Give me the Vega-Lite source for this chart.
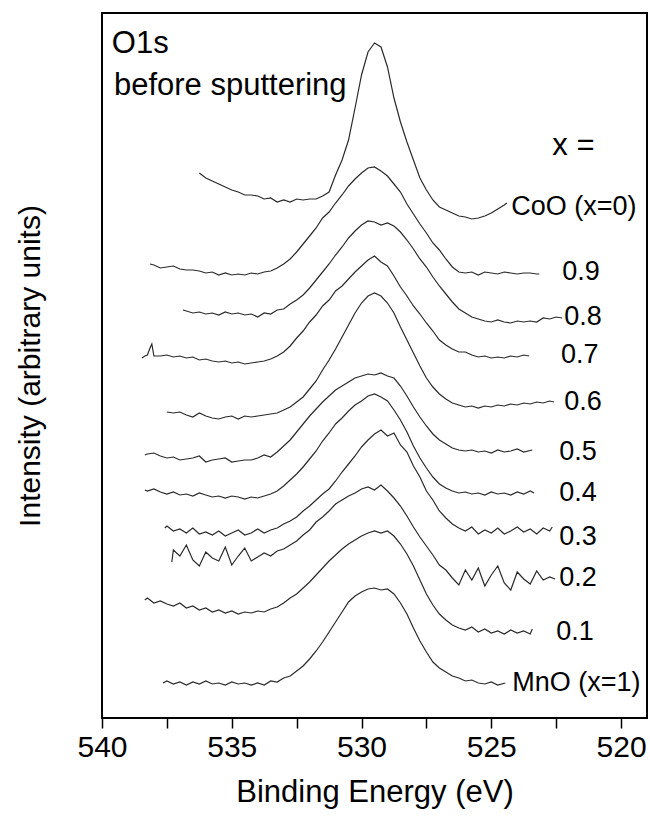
{
  "$schema": "https://vega.github.io/schema/vega-lite/v6.json",
  "width": 545,
  "height": 705,
  "autosize": {"type": "none"},
  "padding": {"left": 102, "top": 13, "right": 3, "bottom": 101},
  "background": "white",
  "config": {"font": "Liberation Sans", "view": {"stroke": "black", "strokeWidth": 2}},
  "datasets": {
    "spectra": [
      {"s":"CoO","e":536.25,"i":545},{"s":"CoO","e":536.0,"i":540},{"s":"CoO","e":535.75,"i":537},{"s":"CoO","e":535.5,"i":534},{"s":"CoO","e":535.25,"i":531},{"s":"CoO","e":535.0,"i":528},{"s":"CoO","e":534.75,"i":526},{"s":"CoO","e":534.5,"i":523},{"s":"CoO","e":534.25,"i":523},{"s":"CoO","e":534.0,"i":522},{"s":"CoO","e":533.75,"i":519},{"s":"CoO","e":533.5,"i":520},{"s":"CoO","e":533.25,"i":516},{"s":"CoO","e":533.0,"i":518},{"s":"CoO","e":532.75,"i":516},{"s":"CoO","e":532.5,"i":519},{"s":"CoO","e":532.25,"i":518},{"s":"CoO","e":532.0,"i":519},{"s":"CoO","e":531.75,"i":519},{"s":"CoO","e":531.5,"i":522},{"s":"CoO","e":531.25,"i":526},{"s":"CoO","e":531.0,"i":543},{"s":"CoO","e":530.75,"i":558},{"s":"CoO","e":530.5,"i":578},{"s":"CoO","e":530.25,"i":610},{"s":"CoO","e":530.0,"i":643},{"s":"CoO","e":529.75,"i":666},{"s":"CoO","e":529.5,"i":675},{"s":"CoO","e":529.25,"i":671},{"s":"CoO","e":529.0,"i":651},{"s":"CoO","e":528.75,"i":620},{"s":"CoO","e":528.5,"i":596},{"s":"CoO","e":528.25,"i":576},{"s":"CoO","e":528.0,"i":558},{"s":"CoO","e":527.75,"i":540},{"s":"CoO","e":527.5,"i":528},{"s":"CoO","e":527.25,"i":518},{"s":"CoO","e":527.0,"i":511},{"s":"CoO","e":526.75,"i":508},{"s":"CoO","e":526.5,"i":505},{"s":"CoO","e":526.25,"i":502},{"s":"CoO","e":526.0,"i":501},{"s":"CoO","e":525.75,"i":499},{"s":"CoO","e":525.5,"i":500},{"s":"CoO","e":525.25,"i":502},{"s":"CoO","e":525.0,"i":505},{"s":"CoO","e":524.75,"i":509},{"s":"CoO","e":524.5,"i":513},{"s":"CoO","e":524.4,"i":515},

      {"s":"0.9","e":538.15,"i":454},{"s":"0.9","e":538.0,"i":453},{"s":"0.9","e":537.75,"i":450},{"s":"0.9","e":537.5,"i":451},{"s":"0.9","e":537.25,"i":452},{"s":"0.9","e":537.0,"i":449},{"s":"0.9","e":536.75,"i":448},{"s":"0.9","e":536.5,"i":448},{"s":"0.9","e":536.25,"i":447},{"s":"0.9","e":536.0,"i":445},{"s":"0.9","e":535.75,"i":446},{"s":"0.9","e":535.5,"i":443},{"s":"0.9","e":535.25,"i":445},{"s":"0.9","e":535.0,"i":443},{"s":"0.9","e":534.75,"i":444},{"s":"0.9","e":534.5,"i":443},{"s":"0.9","e":534.25,"i":445},{"s":"0.9","e":534.0,"i":444},{"s":"0.9","e":533.75,"i":446},{"s":"0.9","e":533.5,"i":447},{"s":"0.9","e":533.25,"i":450},{"s":"0.9","e":533.0,"i":454},{"s":"0.9","e":532.75,"i":459},{"s":"0.9","e":532.5,"i":466},{"s":"0.9","e":532.25,"i":474},{"s":"0.9","e":532.0,"i":482},{"s":"0.9","e":531.75,"i":490},{"s":"0.9","e":531.5,"i":500},{"s":"0.9","e":531.25,"i":506},{"s":"0.9","e":531.0,"i":515},{"s":"0.9","e":530.75,"i":523},{"s":"0.9","e":530.5,"i":532},{"s":"0.9","e":530.25,"i":539},{"s":"0.9","e":530.0,"i":545},{"s":"0.9","e":529.75,"i":550},{"s":"0.9","e":529.5,"i":551},{"s":"0.9","e":529.25,"i":547},{"s":"0.9","e":529.0,"i":542},{"s":"0.9","e":528.75,"i":534},{"s":"0.9","e":528.5,"i":526},{"s":"0.9","e":528.25,"i":514},{"s":"0.9","e":528.0,"i":504},{"s":"0.9","e":527.75,"i":494},{"s":"0.9","e":527.5,"i":485},{"s":"0.9","e":527.25,"i":475},{"s":"0.9","e":527.0,"i":468},{"s":"0.9","e":526.75,"i":459},{"s":"0.9","e":526.5,"i":451},{"s":"0.9","e":526.25,"i":446},{"s":"0.9","e":526.0,"i":445},{"s":"0.9","e":525.75,"i":446},{"s":"0.9","e":525.5,"i":443},{"s":"0.9","e":525.25,"i":446},{"s":"0.9","e":525.0,"i":445},{"s":"0.9","e":524.75,"i":444},{"s":"0.9","e":524.5,"i":446},{"s":"0.9","e":524.25,"i":445},{"s":"0.9","e":524.0,"i":444},{"s":"0.9","e":523.75,"i":445},{"s":"0.9","e":523.5,"i":445},{"s":"0.9","e":523.25,"i":444},{"s":"0.9","e":523.15,"i":444},

      {"s":"0.8","e":536.88,"i":408},{"s":"0.8","e":536.75,"i":407},{"s":"0.8","e":536.5,"i":405},{"s":"0.8","e":536.25,"i":406},{"s":"0.8","e":536.0,"i":404},{"s":"0.8","e":535.75,"i":405},{"s":"0.8","e":535.5,"i":403},{"s":"0.8","e":535.25,"i":406},{"s":"0.8","e":535.0,"i":404},{"s":"0.8","e":534.75,"i":405},{"s":"0.8","e":534.5,"i":403},{"s":"0.8","e":534.25,"i":404},{"s":"0.8","e":534.0,"i":401},{"s":"0.8","e":533.75,"i":405},{"s":"0.8","e":533.5,"i":404},{"s":"0.8","e":533.25,"i":408},{"s":"0.8","e":533.0,"i":409},{"s":"0.8","e":532.75,"i":414},{"s":"0.8","e":532.5,"i":418},{"s":"0.8","e":532.25,"i":423},{"s":"0.8","e":532.0,"i":430},{"s":"0.8","e":531.75,"i":438},{"s":"0.8","e":531.5,"i":446},{"s":"0.8","e":531.25,"i":454},{"s":"0.8","e":531.0,"i":463},{"s":"0.8","e":530.75,"i":471},{"s":"0.8","e":530.5,"i":480},{"s":"0.8","e":530.25,"i":487},{"s":"0.8","e":530.0,"i":493},{"s":"0.8","e":529.75,"i":497},{"s":"0.8","e":529.5,"i":496},{"s":"0.8","e":529.25,"i":493},{"s":"0.8","e":529.0,"i":495},{"s":"0.8","e":528.75,"i":492},{"s":"0.8","e":528.5,"i":486},{"s":"0.8","e":528.25,"i":478},{"s":"0.8","e":528.0,"i":469},{"s":"0.8","e":527.75,"i":459},{"s":"0.8","e":527.5,"i":451},{"s":"0.8","e":527.25,"i":441},{"s":"0.8","e":527.0,"i":432},{"s":"0.8","e":526.75,"i":424},{"s":"0.8","e":526.5,"i":416},{"s":"0.8","e":526.25,"i":409},{"s":"0.8","e":526.0,"i":405},{"s":"0.8","e":525.75,"i":401},{"s":"0.8","e":525.5,"i":399},{"s":"0.8","e":525.25,"i":397},{"s":"0.8","e":525.0,"i":396},{"s":"0.8","e":524.75,"i":398},{"s":"0.8","e":524.5,"i":396},{"s":"0.8","e":524.25,"i":395},{"s":"0.8","e":524.0,"i":397},{"s":"0.8","e":523.75,"i":396},{"s":"0.8","e":523.5,"i":397},{"s":"0.8","e":523.25,"i":396},{"s":"0.8","e":523.0,"i":400},{"s":"0.8","e":522.75,"i":399},{"s":"0.8","e":522.5,"i":401},{"s":"0.8","e":522.27,"i":400},

      {"s":"0.7","e":538.46,"i":360},{"s":"0.7","e":538.35,"i":362},{"s":"0.7","e":538.25,"i":363},{"s":"0.7","e":538.15,"i":370},{"s":"0.7","e":538.08,"i":374},{"s":"0.7","e":538.0,"i":362},{"s":"0.7","e":537.75,"i":362},{"s":"0.7","e":537.5,"i":363},{"s":"0.7","e":537.25,"i":361},{"s":"0.7","e":537.0,"i":362},{"s":"0.7","e":536.75,"i":360},{"s":"0.7","e":536.5,"i":361},{"s":"0.7","e":536.25,"i":358},{"s":"0.7","e":536.0,"i":359},{"s":"0.7","e":535.75,"i":357},{"s":"0.7","e":535.5,"i":356},{"s":"0.7","e":535.25,"i":357},{"s":"0.7","e":535.0,"i":355},{"s":"0.7","e":534.75,"i":356},{"s":"0.7","e":534.5,"i":354},{"s":"0.7","e":534.25,"i":355},{"s":"0.7","e":534.0,"i":356},{"s":"0.7","e":533.75,"i":357},{"s":"0.7","e":533.5,"i":359},{"s":"0.7","e":533.25,"i":362},{"s":"0.7","e":533.0,"i":366},{"s":"0.7","e":532.75,"i":372},{"s":"0.7","e":532.5,"i":380},{"s":"0.7","e":532.25,"i":387},{"s":"0.7","e":532.0,"i":396},{"s":"0.7","e":531.75,"i":403},{"s":"0.7","e":531.5,"i":412},{"s":"0.7","e":531.25,"i":418},{"s":"0.7","e":531.0,"i":427},{"s":"0.7","e":530.75,"i":432},{"s":"0.7","e":530.5,"i":439},{"s":"0.7","e":530.25,"i":446},{"s":"0.7","e":530.0,"i":452},{"s":"0.7","e":529.75,"i":458},{"s":"0.7","e":529.5,"i":462},{"s":"0.7","e":529.25,"i":456},{"s":"0.7","e":529.0,"i":452},{"s":"0.7","e":528.75,"i":442},{"s":"0.7","e":528.5,"i":431},{"s":"0.7","e":528.25,"i":422},{"s":"0.7","e":528.0,"i":412},{"s":"0.7","e":527.75,"i":404},{"s":"0.7","e":527.5,"i":395},{"s":"0.7","e":527.25,"i":387},{"s":"0.7","e":527.0,"i":378},{"s":"0.7","e":526.75,"i":373},{"s":"0.7","e":526.5,"i":369},{"s":"0.7","e":526.25,"i":366},{"s":"0.7","e":526.0,"i":366},{"s":"0.7","e":525.75,"i":363},{"s":"0.7","e":525.5,"i":361},{"s":"0.7","e":525.25,"i":362},{"s":"0.7","e":525.0,"i":360},{"s":"0.7","e":524.75,"i":361},{"s":"0.7","e":524.5,"i":360},{"s":"0.7","e":524.25,"i":362},{"s":"0.7","e":524.0,"i":361},{"s":"0.7","e":523.75,"i":363},{"s":"0.7","e":523.54,"i":362},

      {"s":"0.6","e":537.5,"i":306},{"s":"0.6","e":537.25,"i":305},{"s":"0.6","e":537.0,"i":306},{"s":"0.6","e":536.75,"i":303},{"s":"0.6","e":536.5,"i":301},{"s":"0.6","e":536.25,"i":305},{"s":"0.6","e":536.0,"i":302},{"s":"0.6","e":535.75,"i":300},{"s":"0.6","e":535.5,"i":299},{"s":"0.6","e":535.25,"i":301},{"s":"0.6","e":535.0,"i":302},{"s":"0.6","e":534.75,"i":299},{"s":"0.6","e":534.5,"i":302},{"s":"0.6","e":534.25,"i":301},{"s":"0.6","e":534.0,"i":302},{"s":"0.6","e":533.75,"i":303},{"s":"0.6","e":533.5,"i":304},{"s":"0.6","e":533.25,"i":305},{"s":"0.6","e":533.0,"i":308},{"s":"0.6","e":532.75,"i":311},{"s":"0.6","e":532.5,"i":316},{"s":"0.6","e":532.25,"i":321},{"s":"0.6","e":532.0,"i":329},{"s":"0.6","e":531.75,"i":337},{"s":"0.6","e":531.5,"i":348},{"s":"0.6","e":531.25,"i":358},{"s":"0.6","e":531.0,"i":369},{"s":"0.6","e":530.75,"i":381},{"s":"0.6","e":530.5,"i":393},{"s":"0.6","e":530.25,"i":405},{"s":"0.6","e":530.0,"i":415},{"s":"0.6","e":529.75,"i":422},{"s":"0.6","e":529.5,"i":425},{"s":"0.6","e":529.25,"i":422},{"s":"0.6","e":529.0,"i":415},{"s":"0.6","e":528.75,"i":405},{"s":"0.6","e":528.5,"i":391},{"s":"0.6","e":528.25,"i":378},{"s":"0.6","e":528.0,"i":365},{"s":"0.6","e":527.75,"i":352},{"s":"0.6","e":527.5,"i":340},{"s":"0.6","e":527.25,"i":331},{"s":"0.6","e":527.0,"i":324},{"s":"0.6","e":526.75,"i":319},{"s":"0.6","e":526.5,"i":315},{"s":"0.6","e":526.25,"i":313},{"s":"0.6","e":526.0,"i":311},{"s":"0.6","e":525.75,"i":312},{"s":"0.6","e":525.5,"i":310},{"s":"0.6","e":525.25,"i":312},{"s":"0.6","e":525.0,"i":311},{"s":"0.6","e":524.75,"i":313},{"s":"0.6","e":524.5,"i":312},{"s":"0.6","e":524.25,"i":314},{"s":"0.6","e":524.0,"i":313},{"s":"0.6","e":523.75,"i":315},{"s":"0.6","e":523.5,"i":314},{"s":"0.6","e":523.25,"i":316},{"s":"0.6","e":523.0,"i":315},{"s":"0.6","e":522.75,"i":317},{"s":"0.6","e":522.58,"i":316},

      {"s":"0.5","e":538.35,"i":263},{"s":"0.5","e":538.25,"i":264},{"s":"0.5","e":538.0,"i":265},{"s":"0.5","e":537.75,"i":262},{"s":"0.5","e":537.5,"i":260},{"s":"0.5","e":537.25,"i":261},{"s":"0.5","e":537.0,"i":258},{"s":"0.5","e":536.75,"i":259},{"s":"0.5","e":536.5,"i":260},{"s":"0.5","e":536.25,"i":262},{"s":"0.5","e":536.0,"i":256},{"s":"0.5","e":535.75,"i":258},{"s":"0.5","e":535.5,"i":259},{"s":"0.5","e":535.25,"i":260},{"s":"0.5","e":535.0,"i":256},{"s":"0.5","e":534.75,"i":257},{"s":"0.5","e":534.5,"i":258},{"s":"0.5","e":534.25,"i":258},{"s":"0.5","e":534.0,"i":260},{"s":"0.5","e":533.75,"i":263},{"s":"0.5","e":533.5,"i":261},{"s":"0.5","e":533.25,"i":266},{"s":"0.5","e":533.0,"i":272},{"s":"0.5","e":532.75,"i":278},{"s":"0.5","e":532.5,"i":286},{"s":"0.5","e":532.25,"i":294},{"s":"0.5","e":532.0,"i":302},{"s":"0.5","e":531.75,"i":309},{"s":"0.5","e":531.5,"i":316},{"s":"0.5","e":531.25,"i":322},{"s":"0.5","e":531.0,"i":328},{"s":"0.5","e":530.75,"i":332},{"s":"0.5","e":530.5,"i":336},{"s":"0.5","e":530.25,"i":340},{"s":"0.5","e":530.0,"i":342},{"s":"0.5","e":529.75,"i":344},{"s":"0.5","e":529.5,"i":343},{"s":"0.5","e":529.25,"i":345},{"s":"0.5","e":529.0,"i":342},{"s":"0.5","e":528.75,"i":340},{"s":"0.5","e":528.5,"i":332},{"s":"0.5","e":528.25,"i":322},{"s":"0.5","e":528.0,"i":311},{"s":"0.5","e":527.75,"i":301},{"s":"0.5","e":527.5,"i":292},{"s":"0.5","e":527.25,"i":284},{"s":"0.5","e":527.0,"i":278},{"s":"0.5","e":526.75,"i":274},{"s":"0.5","e":526.5,"i":270},{"s":"0.5","e":526.25,"i":268},{"s":"0.5","e":526.0,"i":267},{"s":"0.5","e":525.75,"i":268},{"s":"0.5","e":525.5,"i":266},{"s":"0.5","e":525.25,"i":267},{"s":"0.5","e":525.0,"i":265},{"s":"0.5","e":524.75,"i":268},{"s":"0.5","e":524.5,"i":266},{"s":"0.5","e":524.25,"i":267},{"s":"0.5","e":524.0,"i":269},{"s":"0.5","e":523.75,"i":266},{"s":"0.5","e":523.42,"i":268},

      {"s":"0.4","e":538.35,"i":228},{"s":"0.4","e":538.25,"i":227},{"s":"0.4","e":538.0,"i":229},{"s":"0.4","e":537.75,"i":226},{"s":"0.4","e":537.5,"i":224},{"s":"0.4","e":537.25,"i":226},{"s":"0.4","e":537.0,"i":223},{"s":"0.4","e":536.75,"i":224},{"s":"0.4","e":536.5,"i":222},{"s":"0.4","e":536.25,"i":225},{"s":"0.4","e":536.0,"i":223},{"s":"0.4","e":535.75,"i":221},{"s":"0.4","e":535.5,"i":222},{"s":"0.4","e":535.25,"i":220},{"s":"0.4","e":535.0,"i":222},{"s":"0.4","e":534.75,"i":221},{"s":"0.4","e":534.5,"i":219},{"s":"0.4","e":534.25,"i":221},{"s":"0.4","e":534.0,"i":220},{"s":"0.4","e":533.75,"i":222},{"s":"0.4","e":533.5,"i":224},{"s":"0.4","e":533.25,"i":227},{"s":"0.4","e":533.0,"i":232},{"s":"0.4","e":532.75,"i":238},{"s":"0.4","e":532.5,"i":244},{"s":"0.4","e":532.25,"i":251},{"s":"0.4","e":532.0,"i":259},{"s":"0.4","e":531.75,"i":267},{"s":"0.4","e":531.5,"i":277},{"s":"0.4","e":531.25,"i":285},{"s":"0.4","e":531.0,"i":294},{"s":"0.4","e":530.75,"i":300},{"s":"0.4","e":530.5,"i":307},{"s":"0.4","e":530.25,"i":313},{"s":"0.4","e":530.0,"i":317},{"s":"0.4","e":529.75,"i":322},{"s":"0.4","e":529.5,"i":324},{"s":"0.4","e":529.25,"i":321},{"s":"0.4","e":529.0,"i":317},{"s":"0.4","e":528.75,"i":308},{"s":"0.4","e":528.5,"i":298},{"s":"0.4","e":528.25,"i":286},{"s":"0.4","e":528.0,"i":272},{"s":"0.4","e":527.75,"i":260},{"s":"0.4","e":527.5,"i":250},{"s":"0.4","e":527.25,"i":241},{"s":"0.4","e":527.0,"i":234},{"s":"0.4","e":526.75,"i":230},{"s":"0.4","e":526.5,"i":227},{"s":"0.4","e":526.25,"i":225},{"s":"0.4","e":526.0,"i":226},{"s":"0.4","e":525.75,"i":224},{"s":"0.4","e":525.5,"i":225},{"s":"0.4","e":525.25,"i":223},{"s":"0.4","e":525.0,"i":226},{"s":"0.4","e":524.75,"i":224},{"s":"0.4","e":524.5,"i":225},{"s":"0.4","e":524.25,"i":223},{"s":"0.4","e":524.0,"i":226},{"s":"0.4","e":523.75,"i":224},{"s":"0.4","e":523.5,"i":227},{"s":"0.4","e":523.35,"i":225},

      {"s":"0.3","e":537.58,"i":190},{"s":"0.3","e":537.5,"i":192},{"s":"0.3","e":537.25,"i":187},{"s":"0.3","e":537.0,"i":189},{"s":"0.3","e":536.75,"i":185},{"s":"0.3","e":536.5,"i":190},{"s":"0.3","e":536.25,"i":184},{"s":"0.3","e":536.0,"i":186},{"s":"0.3","e":535.75,"i":183},{"s":"0.3","e":535.5,"i":187},{"s":"0.3","e":535.25,"i":182},{"s":"0.3","e":535.0,"i":185},{"s":"0.3","e":534.75,"i":188},{"s":"0.3","e":534.5,"i":183},{"s":"0.3","e":534.25,"i":185},{"s":"0.3","e":534.0,"i":189},{"s":"0.3","e":533.75,"i":185},{"s":"0.3","e":533.5,"i":188},{"s":"0.3","e":533.25,"i":190},{"s":"0.3","e":533.0,"i":194},{"s":"0.3","e":532.75,"i":197},{"s":"0.3","e":532.5,"i":201},{"s":"0.3","e":532.25,"i":207},{"s":"0.3","e":532.0,"i":212},{"s":"0.3","e":531.75,"i":218},{"s":"0.3","e":531.5,"i":224},{"s":"0.3","e":531.25,"i":229},{"s":"0.3","e":531.0,"i":237},{"s":"0.3","e":530.75,"i":246},{"s":"0.3","e":530.5,"i":254},{"s":"0.3","e":530.25,"i":262},{"s":"0.3","e":530.0,"i":271},{"s":"0.3","e":529.75,"i":278},{"s":"0.3","e":529.5,"i":284},{"s":"0.3","e":529.25,"i":288},{"s":"0.3","e":529.0,"i":282},{"s":"0.3","e":528.75,"i":285},{"s":"0.3","e":528.5,"i":273},{"s":"0.3","e":528.25,"i":266},{"s":"0.3","e":528.0,"i":252},{"s":"0.3","e":527.75,"i":241},{"s":"0.3","e":527.5,"i":227},{"s":"0.3","e":527.25,"i":218},{"s":"0.3","e":527.0,"i":207},{"s":"0.3","e":526.75,"i":200},{"s":"0.3","e":526.5,"i":194},{"s":"0.3","e":526.25,"i":190},{"s":"0.3","e":526.0,"i":187},{"s":"0.3","e":525.75,"i":191},{"s":"0.3","e":525.5,"i":184},{"s":"0.3","e":525.25,"i":188},{"s":"0.3","e":525.0,"i":185},{"s":"0.3","e":524.75,"i":190},{"s":"0.3","e":524.5,"i":184},{"s":"0.3","e":524.25,"i":187},{"s":"0.3","e":524.0,"i":191},{"s":"0.3","e":523.75,"i":186},{"s":"0.3","e":523.5,"i":189},{"s":"0.3","e":523.25,"i":184},{"s":"0.3","e":523.0,"i":190},{"s":"0.3","e":522.75,"i":187},{"s":"0.3","e":522.65,"i":191},

      {"s":"0.2","e":537.31,"i":156},{"s":"0.2","e":537.25,"i":168},{"s":"0.2","e":537.0,"i":162},{"s":"0.2","e":536.75,"i":173},{"s":"0.2","e":536.5,"i":158},{"s":"0.2","e":536.25,"i":152},{"s":"0.2","e":536.0,"i":166},{"s":"0.2","e":535.75,"i":160},{"s":"0.2","e":535.5,"i":157},{"s":"0.2","e":535.25,"i":171},{"s":"0.2","e":535.0,"i":153},{"s":"0.2","e":534.75,"i":162},{"s":"0.2","e":534.5,"i":170},{"s":"0.2","e":534.25,"i":157},{"s":"0.2","e":534.0,"i":161},{"s":"0.2","e":533.75,"i":165},{"s":"0.2","e":533.5,"i":162},{"s":"0.2","e":533.25,"i":167},{"s":"0.2","e":533.0,"i":169},{"s":"0.2","e":532.75,"i":173},{"s":"0.2","e":532.5,"i":177},{"s":"0.2","e":532.25,"i":183},{"s":"0.2","e":532.0,"i":188},{"s":"0.2","e":531.75,"i":196},{"s":"0.2","e":531.5,"i":201},{"s":"0.2","e":531.25,"i":207},{"s":"0.2","e":531.0,"i":214},{"s":"0.2","e":530.75,"i":218},{"s":"0.2","e":530.5,"i":222},{"s":"0.2","e":530.25,"i":225},{"s":"0.2","e":530.0,"i":229},{"s":"0.2","e":529.75,"i":231},{"s":"0.2","e":529.5,"i":228},{"s":"0.2","e":529.25,"i":233},{"s":"0.2","e":529.0,"i":227},{"s":"0.2","e":528.75,"i":220},{"s":"0.2","e":528.5,"i":212},{"s":"0.2","e":528.25,"i":202},{"s":"0.2","e":528.0,"i":191},{"s":"0.2","e":527.75,"i":181},{"s":"0.2","e":527.5,"i":172},{"s":"0.2","e":527.25,"i":163},{"s":"0.2","e":527.0,"i":153},{"s":"0.2","e":526.75,"i":148},{"s":"0.2","e":526.5,"i":140},{"s":"0.2","e":526.25,"i":133},{"s":"0.2","e":526.0,"i":148},{"s":"0.2","e":525.75,"i":138},{"s":"0.2","e":525.5,"i":150},{"s":"0.2","e":525.25,"i":132},{"s":"0.2","e":525.0,"i":143},{"s":"0.2","e":524.75,"i":152},{"s":"0.2","e":524.5,"i":135},{"s":"0.2","e":524.25,"i":128},{"s":"0.2","e":524.0,"i":146},{"s":"0.2","e":523.75,"i":139},{"s":"0.2","e":523.5,"i":134},{"s":"0.2","e":523.25,"i":147},{"s":"0.2","e":523.0,"i":138},{"s":"0.2","e":522.75,"i":141},{"s":"0.2","e":522.54,"i":139},

      {"s":"0.1","e":538.35,"i":118},{"s":"0.1","e":538.25,"i":120},{"s":"0.1","e":538.0,"i":115},{"s":"0.1","e":537.75,"i":117},{"s":"0.1","e":537.5,"i":114},{"s":"0.1","e":537.25,"i":112},{"s":"0.1","e":537.0,"i":115},{"s":"0.1","e":536.75,"i":110},{"s":"0.1","e":536.5,"i":112},{"s":"0.1","e":536.25,"i":108},{"s":"0.1","e":536.0,"i":110},{"s":"0.1","e":535.75,"i":106},{"s":"0.1","e":535.5,"i":108},{"s":"0.1","e":535.25,"i":105},{"s":"0.1","e":535.0,"i":107},{"s":"0.1","e":534.75,"i":104},{"s":"0.1","e":534.5,"i":106},{"s":"0.1","e":534.25,"i":105},{"s":"0.1","e":534.0,"i":107},{"s":"0.1","e":533.75,"i":106},{"s":"0.1","e":533.5,"i":109},{"s":"0.1","e":533.25,"i":111},{"s":"0.1","e":533.0,"i":115},{"s":"0.1","e":532.75,"i":120},{"s":"0.1","e":532.5,"i":124},{"s":"0.1","e":532.25,"i":130},{"s":"0.1","e":532.0,"i":136},{"s":"0.1","e":531.75,"i":143},{"s":"0.1","e":531.5,"i":150},{"s":"0.1","e":531.25,"i":157},{"s":"0.1","e":531.0,"i":163},{"s":"0.1","e":530.75,"i":169},{"s":"0.1","e":530.5,"i":174},{"s":"0.1","e":530.25,"i":178},{"s":"0.1","e":530.0,"i":182},{"s":"0.1","e":529.75,"i":185},{"s":"0.1","e":529.5,"i":187},{"s":"0.1","e":529.25,"i":185},{"s":"0.1","e":529.0,"i":187},{"s":"0.1","e":528.75,"i":182},{"s":"0.1","e":528.5,"i":174},{"s":"0.1","e":528.25,"i":164},{"s":"0.1","e":528.0,"i":152},{"s":"0.1","e":527.75,"i":138},{"s":"0.1","e":527.5,"i":124},{"s":"0.1","e":527.25,"i":113},{"s":"0.1","e":527.0,"i":104},{"s":"0.1","e":526.75,"i":98},{"s":"0.1","e":526.5,"i":93},{"s":"0.1","e":526.25,"i":90},{"s":"0.1","e":526.0,"i":88},{"s":"0.1","e":525.75,"i":91},{"s":"0.1","e":525.5,"i":86},{"s":"0.1","e":525.25,"i":89},{"s":"0.1","e":525.0,"i":85},{"s":"0.1","e":524.75,"i":87},{"s":"0.1","e":524.5,"i":84},{"s":"0.1","e":524.25,"i":88},{"s":"0.1","e":524.0,"i":85},{"s":"0.1","e":523.75,"i":87},{"s":"0.1","e":523.5,"i":84},{"s":"0.1","e":523.42,"i":89},

      {"s":"MnO","e":537.65,"i":35},{"s":"MnO","e":537.5,"i":37},{"s":"MnO","e":537.25,"i":34},{"s":"MnO","e":537.0,"i":36},{"s":"MnO","e":536.75,"i":33},{"s":"MnO","e":536.5,"i":36},{"s":"MnO","e":536.25,"i":34},{"s":"MnO","e":536.0,"i":37},{"s":"MnO","e":535.75,"i":34},{"s":"MnO","e":535.5,"i":35},{"s":"MnO","e":535.25,"i":33},{"s":"MnO","e":535.0,"i":36},{"s":"MnO","e":534.75,"i":34},{"s":"MnO","e":534.5,"i":35},{"s":"MnO","e":534.25,"i":33},{"s":"MnO","e":534.0,"i":35},{"s":"MnO","e":533.75,"i":33},{"s":"MnO","e":533.5,"i":37},{"s":"MnO","e":533.25,"i":36},{"s":"MnO","e":533.0,"i":40},{"s":"MnO","e":532.75,"i":42},{"s":"MnO","e":532.5,"i":47},{"s":"MnO","e":532.25,"i":52},{"s":"MnO","e":532.0,"i":59},{"s":"MnO","e":531.75,"i":67},{"s":"MnO","e":531.5,"i":76},{"s":"MnO","e":531.25,"i":86},{"s":"MnO","e":531.0,"i":96},{"s":"MnO","e":530.75,"i":106},{"s":"MnO","e":530.5,"i":116},{"s":"MnO","e":530.25,"i":122},{"s":"MnO","e":530.0,"i":126},{"s":"MnO","e":529.75,"i":129},{"s":"MnO","e":529.5,"i":130},{"s":"MnO","e":529.25,"i":128},{"s":"MnO","e":529.0,"i":129},{"s":"MnO","e":528.75,"i":124},{"s":"MnO","e":528.5,"i":115},{"s":"MnO","e":528.25,"i":104},{"s":"MnO","e":528.0,"i":90},{"s":"MnO","e":527.75,"i":77},{"s":"MnO","e":527.5,"i":66},{"s":"MnO","e":527.25,"i":56},{"s":"MnO","e":527.0,"i":50},{"s":"MnO","e":526.75,"i":46},{"s":"MnO","e":526.5,"i":42},{"s":"MnO","e":526.25,"i":40},{"s":"MnO","e":526.0,"i":37},{"s":"MnO","e":525.75,"i":38},{"s":"MnO","e":525.5,"i":35},{"s":"MnO","e":525.25,"i":34},{"s":"MnO","e":525.0,"i":36},{"s":"MnO","e":524.75,"i":33},{"s":"MnO","e":524.46,"i":35}
    ],
    "curveLabels": [
      {"t":"CoO (x=0)","e":524.23,"i":511},
      {"t":"0.9","e":522.27,"i":446},
      {"t":"0.8","e":522.19,"i":401},
      {"t":"0.7","e":522.31,"i":363},
      {"t":"0.6","e":522.19,"i":316},
      {"t":"0.5","e":522.38,"i":266},
      {"t":"0.4","e":522.38,"i":225},
      {"t":"0.3","e":522.38,"i":181},
      {"t":"0.2","e":522.38,"i":140},
      {"t":"0.1","e":522.5,"i":86},
      {"t":"MnO (x=1)","e":524.19,"i":35}
    ],
    "notes": [
      {"t":"O1s","e":539.62,"i":665},
      {"t":"before sputtering","e":539.54,"i":623},
      {"t":"x =","e":522.65,"i":563}
    ]
  },
  "encoding": {
    "x": {
      "field": "e",
      "type": "quantitative",
      "scale": {"domain": [540, 519], "nice": false, "zero": false},
      "axis": {
        "values": [540, 537.5, 535, 532.5, 530, 527.5, 525, 522.5, 520],
        "format": "d",
        "labelExpr": "datum.value % 5 === 0 ? datum.label : ''",
        "labelFlush": false,
        "labelOverlap": false,
        "domain": false,
        "grid": false,
        "tickSize": 10,
        "tickWidth": 1.5,
        "tickColor": "black",
        "labelFontSize": 30,
        "labelColor": "black",
        "labelPadding": 4,
        "title": "Binding Energy (eV)",
        "titleFontSize": 31,
        "titleFontWeight": "normal",
        "titleColor": "black",
        "titlePadding": 15,
        "encode": {"ticks": {"update": {"y2": {"signal": "datum.value % 5 === 0 ? 10 : 5"}}}}
      }
    },
    "y": {
      "field": "i",
      "type": "quantitative",
      "scale": {"domain": [0, 705], "nice": false, "zero": false},
      "axis": {
        "labels": false,
        "ticks": false,
        "domain": false,
        "grid": false,
        "title": "Intensity (arbitrary units)",
        "titleFontSize": 30,
        "titleFontWeight": "normal",
        "titleColor": "black",
        "titlePadding": 57
      }
    }
  },
  "layer": [
    {
      "data": {"name": "spectra"},
      "mark": {"type": "line", "color": "#2a2a2a", "strokeWidth": 1.2},
      "encoding": {"detail": {"field": "s", "type": "nominal"}}
    },
    {
      "data": {"name": "curveLabels"},
      "mark": {"type": "text", "align": "left", "baseline": "middle", "fontSize": 27, "color": "black"},
      "encoding": {"text": {"field": "t", "type": "nominal"}}
    },
    {
      "data": {"name": "notes"},
      "mark": {"type": "text", "align": "left", "baseline": "alphabetic", "fontSize": 31, "color": "black"},
      "encoding": {"text": {"field": "t", "type": "nominal"}}
    }
  ]
}
